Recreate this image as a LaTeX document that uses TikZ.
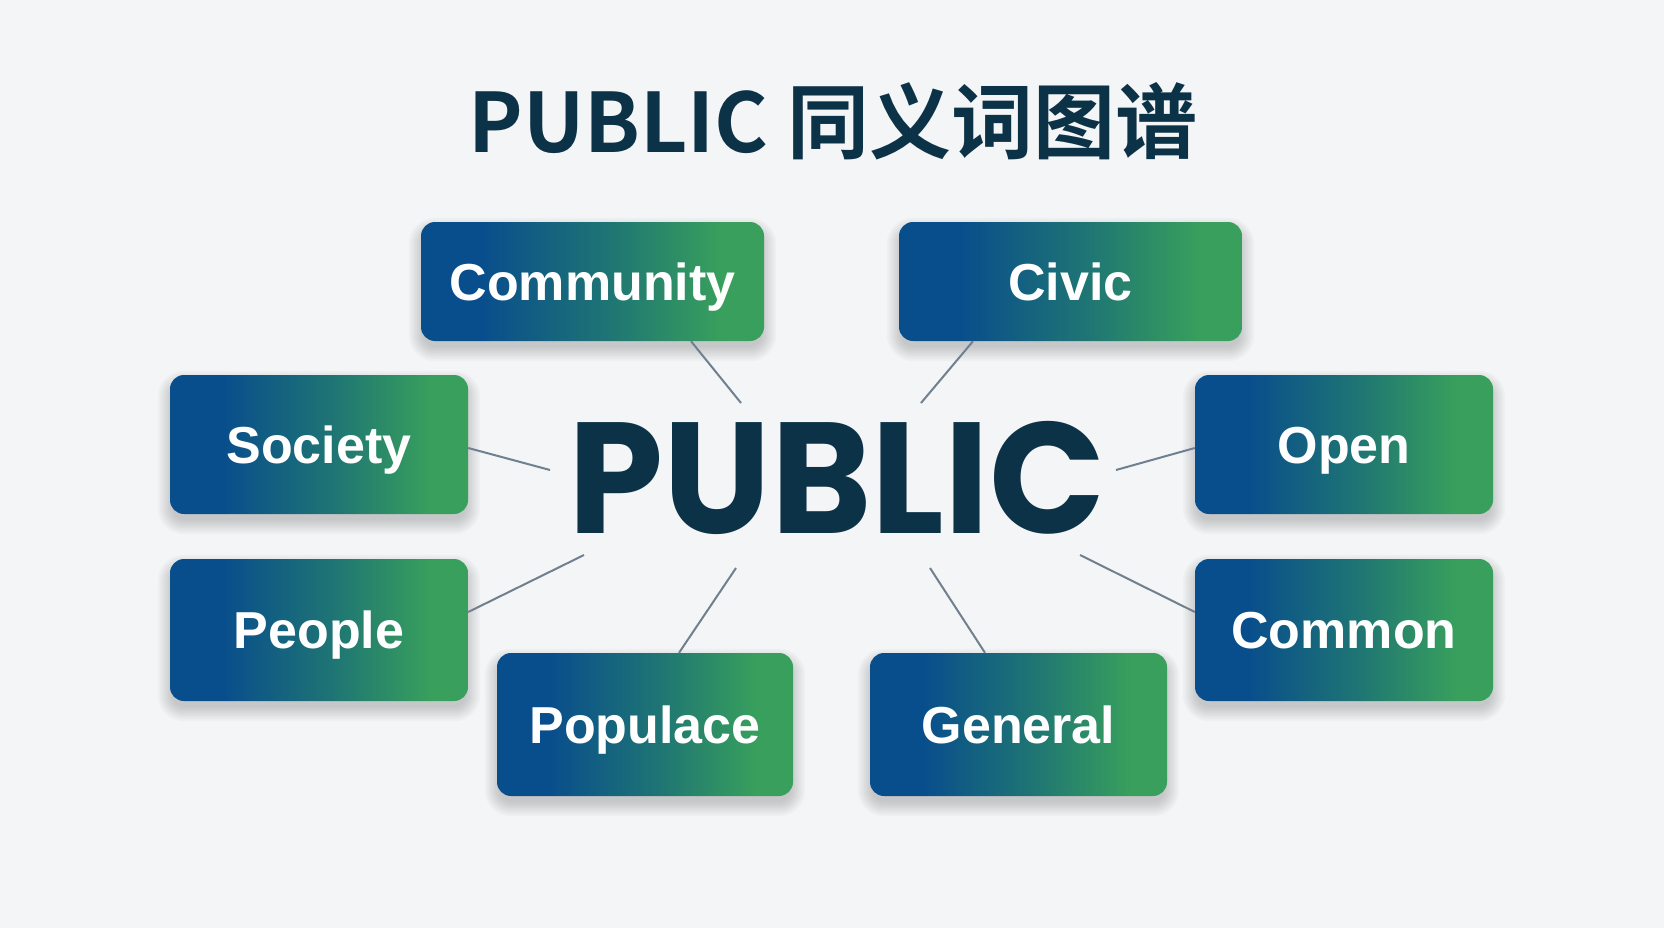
\documentclass[tikz,border=0pt]{standalone}
\usepackage{fontspec}
\setmainfont{Liberation Sans}
\newfontfamily\cjkbold{Noto Sans CJK SC}[BoldFont=* Bold]
\newfontfamily\centerfont{Poppins}[BoldFont=* Bold]
\usetikzlibrary{calc}
\definecolor{bgc}{RGB}{244,245,246}
\definecolor{boxblue}{RGB}{9,78,140}
\definecolor{boxteal}{RGB}{30,116,116}
\definecolor{boxgreen}{RGB}{56,160,92}
\definecolor{navy}{RGB}{12,50,71}
\definecolor{linec}{RGB}{112,128,144}
\pgfdeclarehorizontalshading{boxshade}{100bp}{color(0bp)=(boxblue); color(34bp)=(boxblue); color(52bp)=(boxteal); color(69bp)=(boxgreen); color(100bp)=(boxgreen)}
\tikzset{
  wordbox/.style={rounded corners=14pt, shading=boxshade,
    draw=none, text=white, font=\bfseries\fontsize{52}{60}\selectfont,
    inner sep=0pt, text height=37pt, text depth=0pt},
  link/.style={draw=linec, line width=2pt}
}
\newcommand{\softshadow}[1]{%
  \foreach \e in {-2,0,2,4,6,8,10,12}{%
    \fill[black, opacity=0.022, rounded corners=14pt+\e pt]
      ([xshift=-\e pt, yshift=-8pt+\e pt]#1.north west) rectangle ([xshift=\e pt, yshift=-8pt-\e pt]#1.south east);
  }%
}
\begin{document}
\begin{tikzpicture}[x=1pt,y=-1pt]
\fill[bgc] (0,0) rectangle (1664,928);
\useasboundingbox (0,0) rectangle (1664,928);
\node[text=navy, font=\cjkbold\bfseries\fontsize{82}{92}\selectfont, inner sep=0pt] (title) at (833,121) {PUBLIC 同义词图谱};
\node[text=navy, font=\centerfont\bfseries\fontsize{158}{170}\selectfont, inner sep=0pt, xscale=0.965] (center) at (837,478) {PUBLIC};
\path
  (592.5,281.5) coordinate (pc1)
  (1070.5,281.5) coordinate (pc2)
  (319,444.5) coordinate (pc3)
  (1344,444.5) coordinate (pc4)
  (319,630) coordinate (pc5)
  (1344,630) coordinate (pc6)
  (645,724.5) coordinate (pc7)
  (1018.5,724.5) coordinate (pc8);
\node[minimum width=343pt, minimum height=119pt, inner sep=0pt] (s1) at (pc1) {};
\node[minimum width=343pt, minimum height=119pt, inner sep=0pt] (s2) at (pc2) {};
\node[minimum width=298pt, minimum height=139pt, inner sep=0pt] (s3) at (pc3) {};
\node[minimum width=298pt, minimum height=139pt, inner sep=0pt] (s4) at (pc4) {};
\node[minimum width=298pt, minimum height=142pt, inner sep=0pt] (s5) at (pc5) {};
\node[minimum width=298pt, minimum height=142pt, inner sep=0pt] (s6) at (pc6) {};
\node[minimum width=296pt, minimum height=143pt, inner sep=0pt] (s7) at (pc7) {};
\node[minimum width=297pt, minimum height=143pt, inner sep=0pt] (s8) at (pc8) {};
\softshadow{s1}\softshadow{s2}\softshadow{s3}\softshadow{s4}
\softshadow{s5}\softshadow{s6}\softshadow{s7}\softshadow{s8}
\node[wordbox, minimum width=343pt, minimum height=119pt] (comm) at (pc1) {Community};
\node[wordbox, minimum width=343pt, minimum height=119pt] (civic) at (pc2) {Civic};
\node[wordbox, minimum width=298pt, minimum height=139pt] (soc) at (pc3) {Society};
\node[wordbox, minimum width=298pt, minimum height=139pt] (open) at (pc4) {Open};
\node[wordbox, minimum width=298pt, minimum height=142pt] (people) at (pc5) {People};
\node[wordbox, minimum width=298pt, minimum height=142pt] (common) at (pc6) {Common};
\node[wordbox, minimum width=296pt, minimum height=143pt] (pop) at (pc7) {Populace};
\node[wordbox, minimum width=297pt, minimum height=143pt] (gen) at (pc8) {General};
\coordinate (eComm) at (741,403);
\coordinate (eCivic) at (921,403);
\coordinate (eSoc) at (550,470);
\coordinate (eOpen) at (1116,470);
\coordinate (ePeople) at (584,555);
\coordinate (eCommon) at (1080,555);
\coordinate (ePop) at (736,568);
\coordinate (eGen) at (930,568);
\draw[link] ([xshift=98.5pt]comm.south) -- (eComm);
\draw[link] ([xshift=-97.5pt]civic.south) -- (eCivic);
\draw[link] ([yshift=-3.5pt]soc.east) -- (eSoc);
\draw[link] ([yshift=-3.5pt]open.west) -- (eOpen);
\draw[link] ([yshift=18pt]people.east) -- (ePeople);
\draw[link] ([yshift=18pt]common.west) -- (eCommon);
\draw[link] ([xshift=34pt]pop.north) -- (ePop);
\draw[link] ([xshift=-33.5pt]gen.north) -- (eGen);
\end{tikzpicture}
\end{document}
